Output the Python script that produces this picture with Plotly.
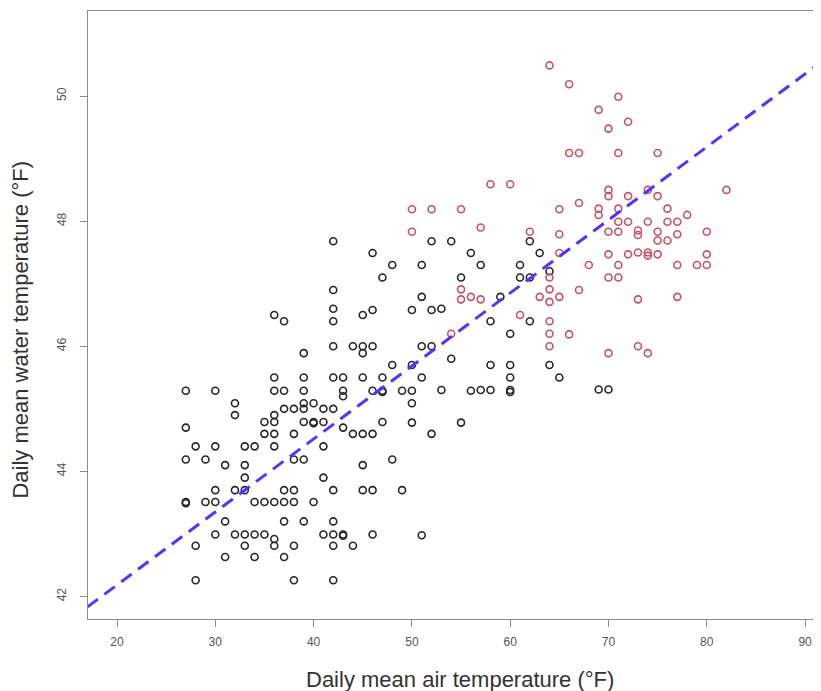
import plotly.graph_objects as go

# ---------------- data ----------------
# black (grey/black open circles)
black_x = [42, 46, 42, 42, 42, 36, 37, 45, 46, 42, 44, 45, 45, 46, 39, 36, 39, 42, 43, 45,
           27, 30, 36, 37, 39, 43, 43, 46,
           32, 39, 40,
           37, 38, 39, 41, 42,
           32, 36,
           35, 36, 39, 40, 40, 41,
           27, 43,
           35, 36, 38, 44, 45, 46,
           28, 30, 33, 34, 36, 41,
           27, 29, 38, 39,
           31, 33, 45,
           33, 41,
           30, 32, 33, 37, 38, 42, 45, 46,
           27, 27, 29, 30, 34, 35, 36, 37, 38, 40,
           31, 37, 39, 42,
           30, 32, 33, 34, 35, 41, 42, 43, 43, 46,
           36,
           28, 33, 36, 38, 42, 44,
           31, 34, 37,
           28, 38, 42,
           52, 54, 62, 56, 63, 48, 51, 57, 61, 64, 47, 55, 61, 62, 59, 51, 50, 52, 53, 58,
           62, 60, 51, 52, 54, 48, 50, 58, 60, 64, 65, 47, 51, 60, 47, 47, 49, 50, 53, 56,
           57, 58, 60, 60,
           50, 47, 50, 55, 52, 48, 49, 51, 69, 70]
black_y = [47.68, 47.49, 46.90, 46.60, 46.40, 46.50, 46.40, 46.50, 46.58, 46.00, 46.00, 46.00,
           45.89, 46.00, 45.89, 45.50, 45.50, 45.50, 45.50, 45.50,
           45.29, 45.29, 45.29, 45.29, 45.29, 45.29, 45.20, 45.29,
           45.09, 45.09, 45.09,
           45.00, 45.00, 45.00, 45.00, 45.00,
           44.90, 44.90,
           44.79, 44.79, 44.79, 44.79, 44.77, 44.79,
           44.70, 44.70,
           44.60, 44.60, 44.60, 44.60, 44.60, 44.60,
           44.40, 44.40, 44.40, 44.40, 44.40, 44.40,
           44.19, 44.19, 44.19, 44.19,
           44.10, 44.10, 44.10,
           43.90, 43.90,
           43.70, 43.70, 43.70, 43.70, 43.70, 43.70, 43.70, 43.70,
           43.51, 43.49, 43.51, 43.51, 43.51, 43.51, 43.51, 43.51, 43.51, 43.51,
           43.20, 43.20, 43.20, 43.20,
           42.99, 42.99, 42.99, 42.99, 42.99, 42.99, 42.99, 42.99, 42.97, 42.99,
           42.92,
           42.81, 42.81, 42.81, 42.81, 42.81, 42.81,
           42.63, 42.63, 42.63,
           42.26, 42.26, 42.26,
           47.68, 47.68, 47.68, 47.49, 47.49, 47.30, 47.30, 47.30, 47.30, 47.20, 47.10, 47.10,
           47.10, 47.10, 46.79, 46.79, 46.58, 46.58, 46.60, 46.40,
           46.40, 46.20, 46.00, 46.00, 45.80, 45.70, 45.70, 45.70, 45.70, 45.70, 45.50, 45.50,
           45.50, 45.50, 45.29, 45.27, 45.29, 45.29, 45.30, 45.29,
           45.30, 45.30, 45.30, 45.27,
           45.09, 44.79, 44.78, 44.78, 44.60, 44.19, 43.70, 42.98, 45.31, 45.31]

# red open circles
red_x = [50, 57, 62, 65, 65, 64, 64, 63, 64, 65, 55, 55, 56, 57, 61, 64, 64, 54, 64,
         50, 52, 55,
         58, 60, 65, 64, 66, 71, 69, 72, 70, 66, 67, 71, 75,
         70, 70, 72, 74, 75, 82, 67, 69, 69, 71, 76, 78, 71, 72, 74, 76, 77,
         70, 71, 73, 73, 75, 75, 76, 77, 80, 70, 72, 73, 74, 74, 75, 80,
         68, 71, 77, 79, 80, 70, 71, 67, 73, 77, 66, 70, 73, 74]
red_y = [47.83, 47.90, 47.83, 47.79, 47.49, 47.10, 46.91, 46.79, 46.71, 46.79, 46.91, 46.75,
         46.79, 46.75, 46.50, 46.40, 46.20, 46.20, 46.00,
         48.19, 48.19, 48.19,
         48.59, 48.59, 48.19, 50.49, 50.19, 49.99, 49.78, 49.59, 49.48, 49.09, 49.09, 49.09, 49.09,
         48.50, 48.40, 48.40, 48.50, 48.40, 48.50, 48.29, 48.20, 48.10, 48.20, 48.20, 48.10,
         47.99, 47.99, 47.99, 47.99, 47.99,
         47.83, 47.83, 47.85, 47.78, 47.83, 47.69, 47.69, 47.79, 47.83,
         47.47, 47.47, 47.50, 47.50, 47.45, 47.47, 47.47,
         47.30, 47.30, 47.30, 47.30, 47.30, 47.10, 47.10, 46.90, 46.75, 46.79,
         46.19, 45.89, 46.00, 45.89]

# fitted line
fit_intercept = 39.85
fit_slope = 0.1167

x_ticks = [20, 30, 40, 50, 60, 70, 80, 90]
y_ticks = [42, 44, 46, 48, 50]
x_range = [17.05, 91.62]
y_range = [41.64, 51.36]

x_title = "Daily mean air temperature (°F)"
y_title = "Daily mean water temperature (°F)"

# ---------------- figure ----------------
FONT = "Liberation Sans, Arial, Helvetica, sans-serif"
fig = go.Figure()

fig.add_trace(go.Scatter(
    x=black_x, y=black_y, mode="markers",
    marker=dict(symbol="circle-open", size=7, color="#262626", line=dict(width=1.6)),
    showlegend=False, hoverinfo="x+y"))

fig.add_trace(go.Scatter(
    x=red_x, y=red_y, mode="markers",
    marker=dict(symbol="circle-open", size=7, color="rgb(200,82,98)", line=dict(width=1.6)),
    showlegend=False, hoverinfo="x+y"))

line_x = [17.0, 93.0]
line_y = [fit_intercept + fit_slope * v for v in line_x]
fig.add_trace(go.Scatter(
    x=line_x, y=line_y, mode="lines",
    line=dict(color="#5533ff", width=3, dash="13px,8px"),
    showlegend=False, hoverinfo="skip"))

axis_common = dict(
    showgrid=False, zeroline=False, showline=True, linecolor="#8c8c8c", linewidth=1,
    ticks="outside", ticklen=7, tickcolor="#8c8c8c", tickwidth=1, automargin=False,
    tickfont=dict(family=FONT, size=12, color="#555555"),
)

# the page body adds an 8px offset, so the figure is 8px smaller than the window
fig.update_layout(
    width=813, height=683,
    margin=dict(l=80, r=0, t=3, b=72, autoexpand=False),
    paper_bgcolor="white", plot_bgcolor="white",
    xaxis=dict(range=x_range, tickvals=x_ticks, mirror=True, ticklabelstandoff=5, **axis_common),
    yaxis=dict(range=y_range, tickvals=y_ticks, mirror=False, tickangle=-90,
               ticklabelstandoff=9, **axis_common),
    annotations=[
        dict(text=x_title, xref="paper", yref="paper", x=0.508, y=0, yanchor="middle",
             xanchor="center", yshift=-60, showarrow=False,
             font=dict(family=FONT, size=22, color="#333333")),
        dict(text=y_title, xref="paper", yref="paper", x=0, y=0.476, xanchor="center",
             yanchor="middle", xshift=-67, textangle=-90, showarrow=False,
             font=dict(family=FONT, size=22, color="#333333")),
    ],
)

fig.write_html("out.html")
